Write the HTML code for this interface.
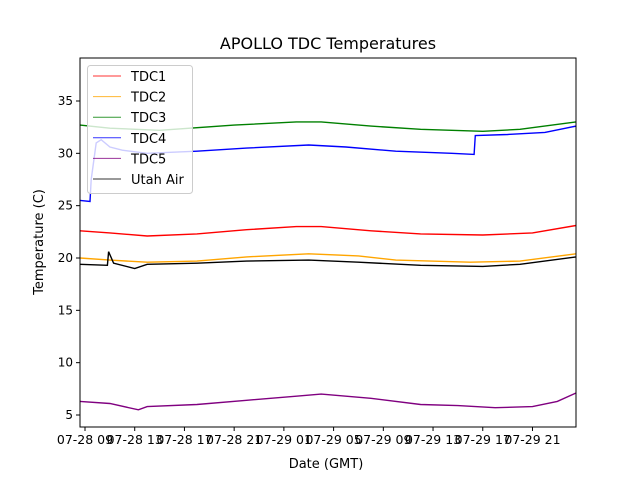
<!DOCTYPE html>
<html><head><meta charset="utf-8"><style>
body{margin:0;background:#fff;font-family:"DejaVu Sans","Liberation Sans",sans-serif}
svg text{font-family:"DejaVu Sans","Liberation Sans",sans-serif}
</style></head><body>
<svg id="chart" width="640" height="480" xmlns="http://www.w3.org/2000/svg">
<rect width="640" height="480" fill="#fff"/>
<text x="328" y="49" font-size="16" text-anchor="middle">APOLLO TDC Temperatures</text>
<text x="326" y="468" font-size="13" text-anchor="middle">Date (GMT)</text>
<text transform="translate(43,242) rotate(-90)" font-size="13" text-anchor="middle">Temperature (C)</text>
<g id="series"></g>
<g id="axes"></g>
<g id="legend"></g>
</svg>
<script>
const xTickHours=[9,13,17,21,25,29,33,37,41,45];
const xTickLabels=["07-28 09","07-28 13","07-28 17","07-28 21","07-29 01","07-29 05","07-29 09","07-29 13","07-29 17","07-29 21"];
const yTicks=[5,10,15,20,25,30,35];
const seriesNames=["TDC1","TDC2","TDC3","TDC4","TDC5","Utah Air"];
const seriesColors=["red","orange","green","blue","purple","black"];
const tdc1H=[8.6,11,14,18,22,26,28,32,36,41,45,48.5];
const tdc1V=[22.6,22.4,22.1,22.3,22.7,23.0,23.0,22.6,22.3,22.2,22.4,23.1];
const tdc2H=[8.6,11,14,18,22,27,31,34,40,44,48.5];
const tdc2V=[20.0,19.8,19.6,19.7,20.1,20.4,20.2,19.8,19.6,19.7,20.4];
const tdc3H=[8.6,11,15,21,26,28,32,36,41,44,48.5];
const tdc3V=[32.7,32.4,32.2,32.7,33.0,33.0,32.6,32.3,32.1,32.3,33.0];
const tdc4H=[8.6,9.4,9.5,9.9,10.3,11,12,14,18,22,27,30,34,38.5,40.3,40.4,43,46,48.5];
const tdc4V=[25.5,25.4,27.5,31.0,31.3,30.6,30.3,30.0,30.2,30.5,30.8,30.6,30.2,30.0,29.9,31.7,31.8,32.0,32.6];
const tdc5H=[8.6,11,13.3,14,18,22,26,28,32,36,39,42,45,47,48.5];
const tdc5V=[6.3,6.1,5.5,5.8,6.0,6.4,6.8,7.0,6.6,6.0,5.9,5.7,5.8,6.3,7.1];
const airH=[8.6,10.8,10.9,11.3,13,14,18,22,27,31,36,41,44,48.5];
const airV=[19.4,19.3,20.6,19.5,19.0,19.4,19.5,19.7,19.8,19.6,19.3,19.2,19.4,20.1];
const allH=[tdc1H,tdc2H,tdc3H,tdc4H,tdc5H,airH];
const allV=[tdc1V,tdc2V,tdc3V,tdc4V,tdc5V,airV];

const L=80,R=576,T=58,B=427;
const xS=h=>85+(h-9)*12.43;
const yS=v=>415-(v-5)*10.467;
const NS="http://www.w3.org/2000/svg";
function mk(tag,attrs,parent){const e=document.createElementNS(NS,tag);for(const k in attrs)e.setAttribute(k,attrs[k]);parent.appendChild(e);return e;}
const sg=document.getElementById('series'),ag=document.getElementById('axes'),lg=document.getElementById('legend');
const clip=mk('clipPath',{id:'pc'},sg);mk('rect',{x:L,y:T,width:R-L,height:B-T},clip);
const order=[2,3,0,1,5,4];
order.forEach(i=>{
  const d=allH[i].map((h,j)=>(j?'L':'M')+xS(h).toFixed(1)+','+yS(allV[i][j]).toFixed(1)).join('');
  const p=mk('path',{d:d,fill:'none',stroke:seriesColors[i],'stroke-width':1.4,'clip-path':'url(#pc)'},sg);
  
  
});
const frame=mk('rect',{x:L,y:T,width:R-L,height:B-T,fill:'none',stroke:'#000','stroke-width':1},ag);


yTicks.forEach(v=>{
  const y=yS(v);
  mk('line',{x1:L-4,x2:L,y1:y,y2:y,stroke:'#000'},ag);
  const t=mk('text',{x:L-7,y:y+4,'font-size':12,'text-anchor':'end'},ag);t.textContent=v;
  
  
});
xTickHours.forEach((h,i)=>{
  const x=xS(h);
  mk('line',{x1:x,x2:x,y1:B,y2:B+4,stroke:'#000'},ag);
  const t=mk('text',{x:x,y:B+17,'font-size':12.5,'text-anchor':'middle'},ag);t.textContent=xTickLabels[i];
  
  
});
const box=mk('rect',{x:87.5,y:65.5,width:105,height:128,rx:3,fill:'#fff','fill-opacity':0.8,stroke:'#ccc'},lg);


seriesNames.forEach((n,i)=>{
  const y=76+i*20.6;
  mk('line',{x1:93,x2:121,y1:y,y2:y,stroke:seriesColors[i],'stroke-width':1,'stroke-opacity':0.8},lg);
  const t=mk('text',{x:131,y:y+5,'font-size':13},lg);t.textContent=n;
  
  
});
</script>
</body></html>
